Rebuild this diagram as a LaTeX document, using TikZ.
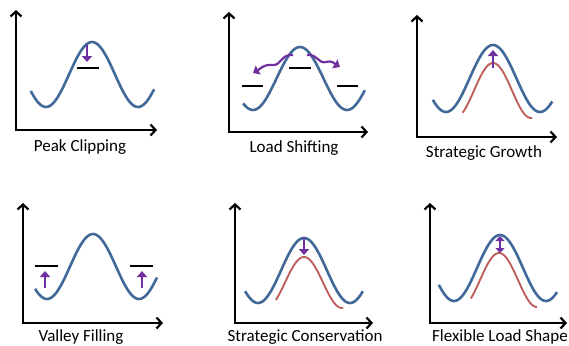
\documentclass[tikz,border=0pt]{standalone}
\usepackage{fontspec}
\setmainfont{Carlito}
\usetikzlibrary{arrows.meta}
\definecolor{waveblue}{HTML}{41699A}
\definecolor{wavered}{HTML}{C0605A}
\definecolor{arrowpurple}{HTML}{7030A0}
\tikzset{
  axisline/.style={line width=2.2pt, {Straight Barb[length=5pt,width=11pt]}-{Straight Barb[length=5pt,width=11pt]}},
  bluewave/.style={waveblue, line width=2.6pt},
  redwave/.style={wavered, line width=1.9pt},
  level/.style={black, line width=1.6pt},
  parrow/.style={arrowpurple, line width=2.2pt, -{Triangle[length=6pt,width=10pt]}},
  pdarrow/.style={arrowpurple, line width=2.2pt, {Triangle[length=5pt,width=9pt]}-{Triangle[length=5pt,width=9pt]}},
  caption/.style={font=\fontsize{17}{19}\selectfont, inner sep=0pt, anchor=base}
}
% #1 style, #2 cx, #3 peak y, #4 valley y, #5 half period, #6 t0, #7 t1
\newcommand\wavecurve[7]{%
  \draw[#1] plot[domain=#6:#7, samples=80, smooth]
    ({#2+#5*\x}, {(#3+#4)/2 - (#4-#3)/2*cos(180*\x)});}
\begin{document}
\begin{tikzpicture}[x=1pt,y=-1pt]
\useasboundingbox[fill=white] (0,0) rectangle (569,345);
% ---------- Panel 1: Peak Clipping
\coordinate (a1t) at (16,10); \coordinate (a1o) at (16,130); \coordinate (a1r) at (157,130);
\draw[axisline] (a1t) -- (a1o) -- (a1r);
\wavecurve{bluewave}{92}{42}{107}{46}{-1.33}{1.35}
\coordinate (l1a) at (77,68); \coordinate (l1b) at (99,68);
\draw[level] (l1a) -- (l1b);
\coordinate (p1a) at (87,45); \coordinate (p1b) at (87,62);
\draw[parrow] (p1a) -- (p1b);
\node[caption] (c1) at (80,151) {Peak Clipping};
% ---------- Panel 2: Load Shifting
\coordinate (a2t) at (229,12); \coordinate (a2o) at (229,132); \coordinate (a2r) at (368,132);
\draw[axisline] (a2t) -- (a2o) -- (a2r);
\wavecurve{bluewave}{300}{47}{110}{47}{-1.21}{1.38}
\coordinate (l2a) at (242,86); \coordinate (l2b) at (263,86);
\coordinate (l2c) at (289,68); \coordinate (l2d) at (311,68);
\coordinate (l2e) at (337,86); \coordinate (l2f) at (358,86);
\draw[level] (l2a) -- (l2b);
\draw[level] (l2c) -- (l2d);
\draw[level] (l2e) -- (l2f);
\coordinate (s2a) at (293,55); \coordinate (s2b) at (253,73);
\coordinate (s2c) at (307,55); \coordinate (s2d) at (340,67);
\draw[parrow] (s2a) .. controls (280,54) and (282,66) .. (272,65) .. controls (264,64) and (260,69) .. (s2b);
\draw[parrow] (s2c) .. controls (318,54) and (318,64) .. (326,62) .. controls (332,60) and (335,64) .. (s2d);
\node[caption] (c2) at (294,152) {Load Shifting};
% ---------- Panel 3: Strategic Growth
\coordinate (a3t) at (417,15); \coordinate (a3o) at (417,137); \coordinate (a3r) at (557,137);
\draw[axisline] (a3t) -- (a3o) -- (a3r);
\wavecurve{redwave}{493}{63}{118}{38}{-0.80}{1.03}
\wavecurve{bluewave}{493}{45}{112}{47}{-1.28}{1.26}
\coordinate (p3a) at (493,68); \coordinate (p3b) at (493,50);
\draw[parrow] (p3a) -- (p3b);
\node[caption] (c3) at (484,157) {Strategic Growth};
% ---------- Panel 4: Valley Filling
\coordinate (a4t) at (23,203); \coordinate (a4o) at (23,323); \coordinate (a4r) at (163,323);
\draw[axisline] (a4t) -- (a4o) -- (a4r);
\wavecurve{bluewave}{93}{234}{299}{46}{-1.26}{1.39}
\coordinate (l4a) at (35,266); \coordinate (l4b) at (58,266);
\coordinate (l4c) at (130,266); \coordinate (l4d) at (153,266);
\draw[level] (l4a) -- (l4b);
\draw[level] (l4c) -- (l4d);
\coordinate (p4a) at (45,288); \coordinate (p4b) at (45,271);
\coordinate (p4c) at (142,288); \coordinate (p4d) at (142,271);
\draw[parrow] (p4a) -- (p4b);
\draw[parrow] (p4c) -- (p4d);
\node[caption] (c4) at (81,341) {Valley Filling};
% ---------- Panel 5: Strategic Conservation
\coordinate (a5t) at (235,203); \coordinate (a5o) at (235,323); \coordinate (a5r) at (373,323);
\draw[axisline] (a5t) -- (a5o) -- (a5r);
\wavecurve{redwave}{304}{257}{308}{38}{-0.74}{1.03}
\wavecurve{bluewave}{304}{238}{303}{46}{-1.28}{1.28}
\coordinate (p5a) at (304,238); \coordinate (p5b) at (304,255);
\draw[parrow] (p5a) -- (p5b);
\node[caption] (c5) at (305,341) {Strategic Conservation};
% ---------- Panel 6: Flexible Load Shape
\coordinate (a6t) at (430,203); \coordinate (a6o) at (430,323); \coordinate (a6r) at (567,323);
\draw[axisline] (a6t) -- (a6o) -- (a6r);
\wavecurve{redwave}{499}{253}{307}{38}{-0.74}{1.0}
\wavecurve{bluewave}{500}{235}{301}{46}{-1.33}{1.24}
\coordinate (p6a) at (500,236); \coordinate (p6b) at (500,253);
\draw[pdarrow] (p6a) -- (p6b);
\node[caption,anchor=base east] (c6) at (568,341) {Flexible Load Shape};
\end{tikzpicture}
\end{document}
